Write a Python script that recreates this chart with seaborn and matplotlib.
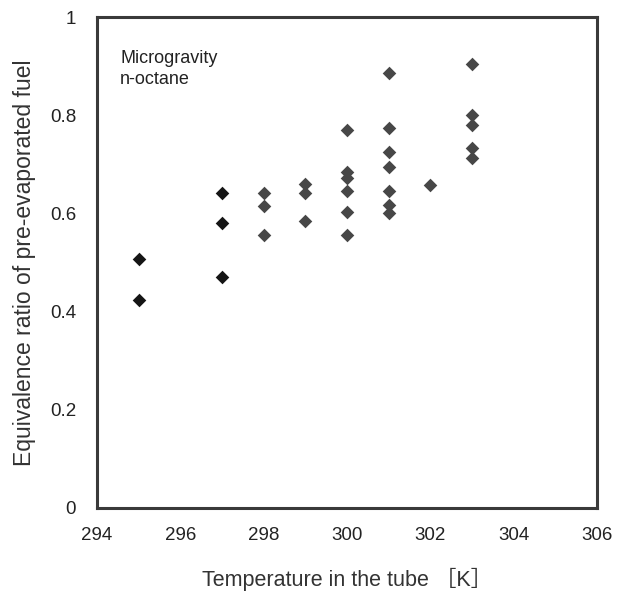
import matplotlib
matplotlib.use("Agg")
import matplotlib.pyplot as plt
import seaborn as sns
import pandas as pd

# Data
temp_295 = [295, 295]
phi_295 = [0.507, 0.424]
temp_297 = [297, 297, 297]
phi_297 = [0.641, 0.580, 0.470]
temp_rest = [298, 298, 298,
             299, 299, 299,
             300, 300, 300, 300, 300, 300,
             301, 301, 301, 301, 301, 301, 301,
             302,
             303, 303, 303, 303, 303]
phi_rest = [0.641, 0.616, 0.556,
            0.660, 0.641, 0.585,
            0.769, 0.685, 0.672, 0.646, 0.603, 0.555,
            0.885, 0.774, 0.726, 0.695, 0.646, 0.617, 0.601,
            0.658,
            0.904, 0.800, 0.780, 0.733, 0.712]

x_ticks = [294, 296, 298, 300, 302, 304, 306]
y_ticks = [0, 0.2, 0.4, 0.6, 0.8, 1]
y_tick_labels = ["0", "0.2", "0.4", "0.6", "0.8", "1"]

sns.set_style("white")
plt.rcParams['font.family'] = ['Liberation Sans', 'Noto Sans CJK JP', 'DejaVu Sans']

fig = plt.figure(figsize=(6.17, 5.93), dpi=100)
ax = fig.add_axes([97/617, 1-508/593, (597-97)/617, (508-17)/593])

df_dark = pd.DataFrame({"T": temp_295 + temp_297, "phi": phi_295 + phi_297})
df_gray = pd.DataFrame({"T": temp_rest, "phi": phi_rest})

sns.scatterplot(data=df_dark, x="T", y="phi", marker="D", s=48, color="#151515",
                linewidth=0, ax=ax)
sns.scatterplot(data=df_gray, x="T", y="phi", marker="D", s=48, color="#474747",
                linewidth=0, ax=ax)

ax.set_xlim(294, 306)
ax.set_ylim(0, 1)
ax.set_xticks(x_ticks)
ax.set_xticklabels([str(t) for t in x_ticks])
ax.set_yticks(y_ticks)
ax.set_yticklabels(y_tick_labels)

ax.tick_params(axis='both', direction='in', length=4, width=0.8, color="#555555",
               labelsize=13.5, labelcolor="#222222")
ax.tick_params(axis='y', pad=15)
ax.tick_params(axis='x', pad=14)

for sp in ax.spines.values():
    sp.set_visible(True)
    sp.set_linewidth(2.2)
    sp.set_color("#3a3a3a")

ax.set_xlabel("Temperature in the tube ［K］", fontsize=15.5, color="#333333", labelpad=17)
ax.set_ylabel("Equivalence ratio of pre-evaporated fuel", fontsize=16.5, color="#333333", labelpad=10)

ax.text(0.046, 0.932, "Microgravity\nn-octane", transform=ax.transAxes, fontsize=13,
        color="#222222", va="top", ha="left", linespacing=1.25)

fig.savefig("out.png", dpi=100)
